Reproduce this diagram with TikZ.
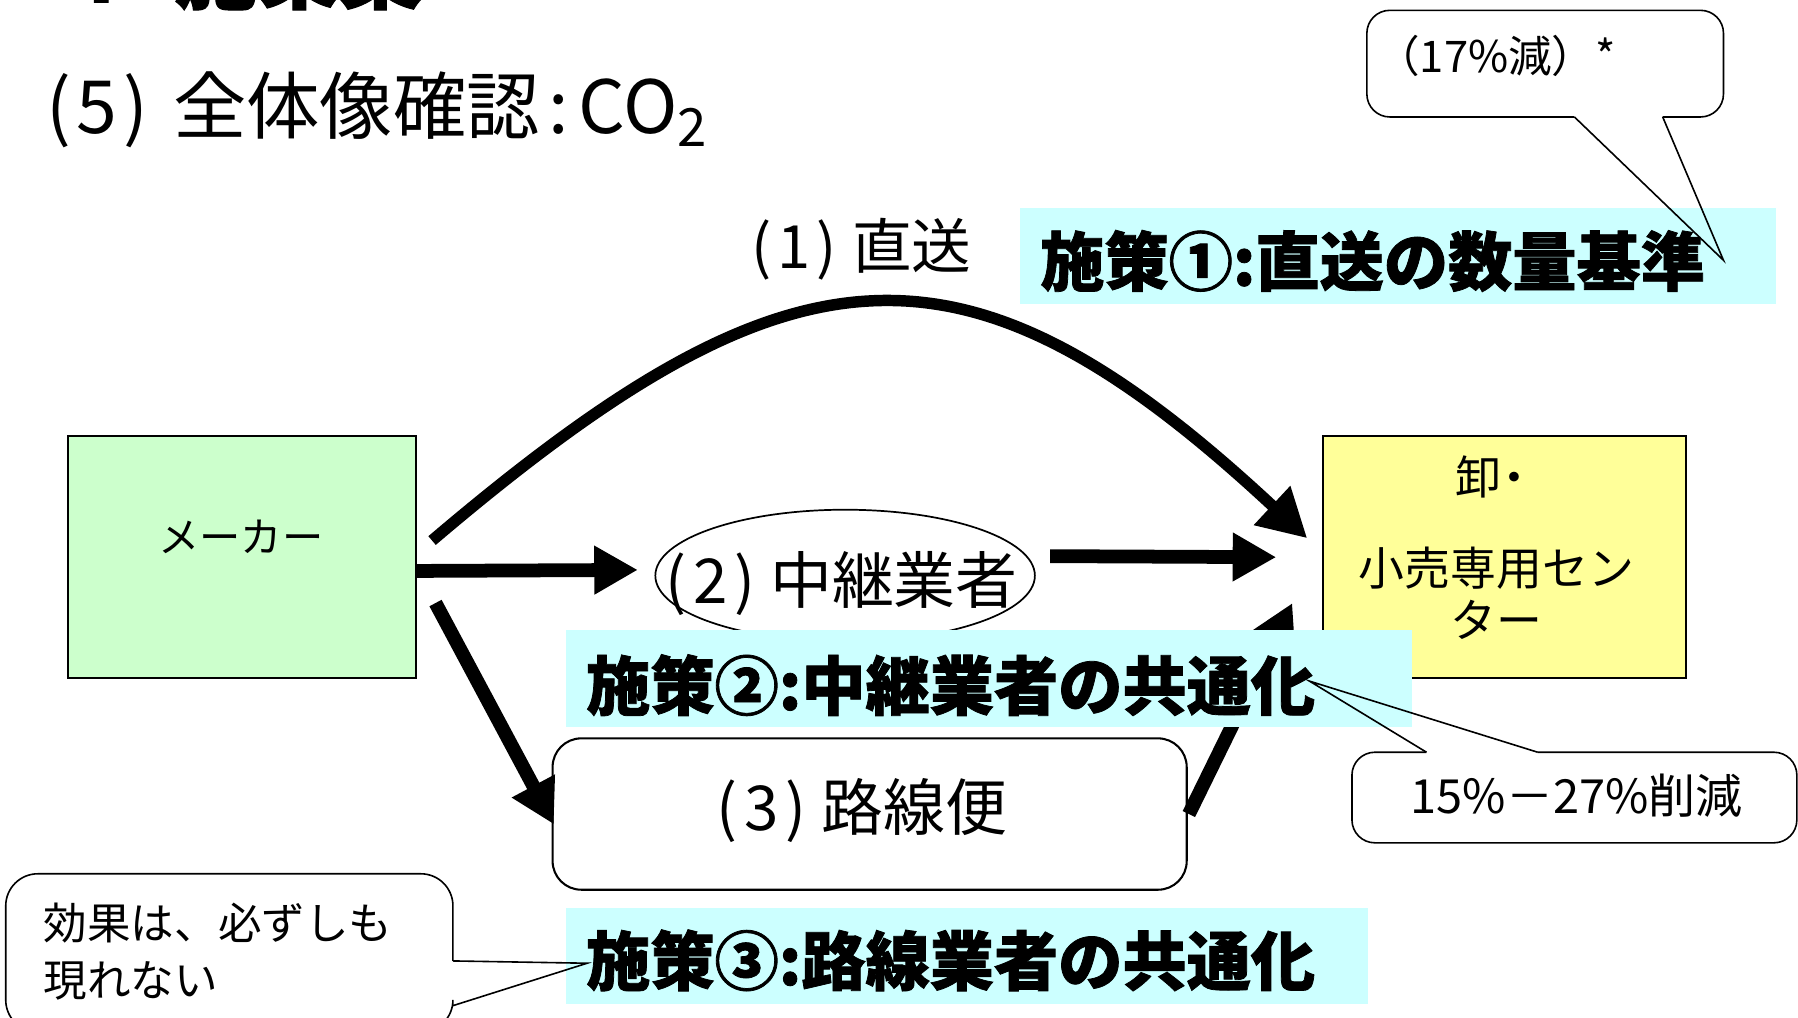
\documentclass[tikz,border=0pt]{standalone}
\usepackage{fontspec}
\setmainfont{Noto Sans CJK JP}[BoldFeatures={FakeBold=1.2}]
\usetikzlibrary{arrows.meta,calc,shapes.geometric}
\definecolor{cyanbg}{HTML}{CCFFFF}
\definecolor{greenbg}{HTML}{CCFFCC}
\definecolor{yellowbg}{HTML}{FFFF99}
\newcommand{\fsz}[1]{\fontsize{#1}{#1}\selectfont}
\begin{document}
\begin{tikzpicture}[x=1pt,y=-1pt,
  flowarrow/.style={line width=11pt, -{Triangle[length=38pt,width=40pt]}},
  plainbox/.style={draw=black, line width=1.8pt, anchor=north west, inner sep=0pt},
  policybox/.style={fill=cyanbg, draw=none, anchor=north west, inner sep=0pt},
  calloutline/.style={draw=black, line width=1.4pt, rounded corners=20pt},
  tailline/.style={draw=black, line width=1.4pt, line join=miter},
  txt/.style={inner sep=0pt, anchor=base},
  policytxt/.style={inner sep=0pt, anchor=base west, font=\fsz{56}\bfseries},
]
\useasboundingbox (0,0) rectangle (1568,887);
\begin{scope}
\clip (0,0) rectangle (1568,887);
% headings
\node[txt, anchor=base west, font=\fsz{72}\bfseries] (heading) at (58,2) {4\hspace{50pt}施策案};
\node[txt, anchor=base west, font=\fsz{64}] (title) at (40,116) {(\hspace{5pt}5\hspace{5pt})\hspace{22pt}全体像確認\hspace{7pt}:\hspace{9pt}CO\raisebox{-12pt}{\fsz{46}2}};
% main boxes
\node[plainbox, fill=greenbg, minimum width=304pt, minimum height=211pt] (maker) at (58,379) {};
\node[txt, font=\fsz{36}] (makertext) at (210,482) {メーカー};
\node[plainbox, fill=yellowbg, minimum width=316pt, minimum height=211pt] (dc) at (1153,379) {};
\node[txt, font=\fsz{40}] (dc1) at (1305,431) {卸\hspace{-8pt}・};
\node[txt, font=\fsz{40}] (dc2) at (1305,511) {小売専用セン};
\node[txt, font=\fsz{40}] (dc3) at (1305,556) {ター};
\node[draw=black, ellipse, line width=1.5pt, minimum width=331pt, minimum height=115pt, inner sep=0pt] (relay) at (737,502) {};
\node[txt, anchor=base west, font=\fsz{54}] (relaytext) at (580,526) {(\hspace{6pt}2\hspace{6pt})\hspace{13pt}中継業者};
\node[plainbox, fill=white, rounded corners=25pt, minimum width=553pt, minimum height=132pt] (route) at (481,643) {};
\node[txt, anchor=base west, font=\fsz{54}] (routetext) at (625,724) {(\hspace{6pt}3\hspace{6pt})\hspace{13pt}路線便};
\node[txt, anchor=base west, font=\fsz{52}] (directtext) at (655,234) {(\hspace{5pt}1\hspace{5pt})\hspace{14pt}直送};
% arrows
\draw[flowarrow, line width=10pt, -{Triangle[length=42pt,width=44pt]}] ($(maker.east)+(13,-14)$) .. controls (690,205) and (840,190) .. ($(dc.west)+(-13,-16)$);
\draw[flowarrow, line width=12pt] ($(maker.east)+(0,12.5)$) -- ($(relay.west)+(-14.5,-5)$);
\draw[flowarrow, line width=12pt] ($(relay.east)+(12.5,-17)$) -- ($(dc.west)+(-40,0.5)$);
\draw[flowarrow, line width=12pt] ($(maker.east)+(16,40.5)$) -- ($(route.west)+(2,9)$);
\draw[flowarrow, line width=12pt] ($(route.east)+(1,0)$) -- ($(dc.west)+(-26,40.5)$);
% policy boxes
\node[policybox, minimum width=660pt, minimum height=84pt] (p1) at (889,181) {};
\node[policytxt] (p1text) at (907,249) {施策①:直送の数量基準};
\node[policybox, minimum width=738pt, minimum height=85pt] (p2) at (493,549) {};
\node[policytxt] (p2text) at (511,619) {施策②:中継業者の共通化};
\node[policybox, minimum width=700pt, minimum height=83pt] (p3) at (493,792) {};
\node[policytxt] (p3text) at (511,859) {施策③:路線業者の共通化};
% callout 1
\draw[calloutline] (1373,102) -- (1192,102) -- (1192,9) -- (1503,9) -- (1503,102) -- (1450,102);
\draw[tailline] (1373,102) -- (1503,227) -- (1450,102);
\node[txt, anchor=base west, font=\fsz{38}] (c1text) at (1200,63) {（17\%減）*};
% callout 2
\draw[calloutline] (1244,656) -- (1179,656) -- (1179,735) -- (1567,735) -- (1567,656) -- (1341,656);
\draw[tailline] (1244,656) -- (1142,594) -- (1341,656);
\node[txt, font=\fsz{41}] (c2text) at (1375,709) {15\%－27\%削減};
% callout 3
\draw[calloutline, rounded corners=28pt] (395,838) -- (395,762) -- (5,762) -- (5,900) -- (395,900) -- (395,877);
\draw[tailline] (395,838) -- (512,840) -- (395,877);
\node[txt, anchor=base west, font=\fsz{38}] (c3a) at (38,819) {効果は、必ずしも};
\node[txt, anchor=base west, font=\fsz{38}] (c3b) at (38,869) {現れない};
\end{scope}
\end{tikzpicture}
\end{document}
